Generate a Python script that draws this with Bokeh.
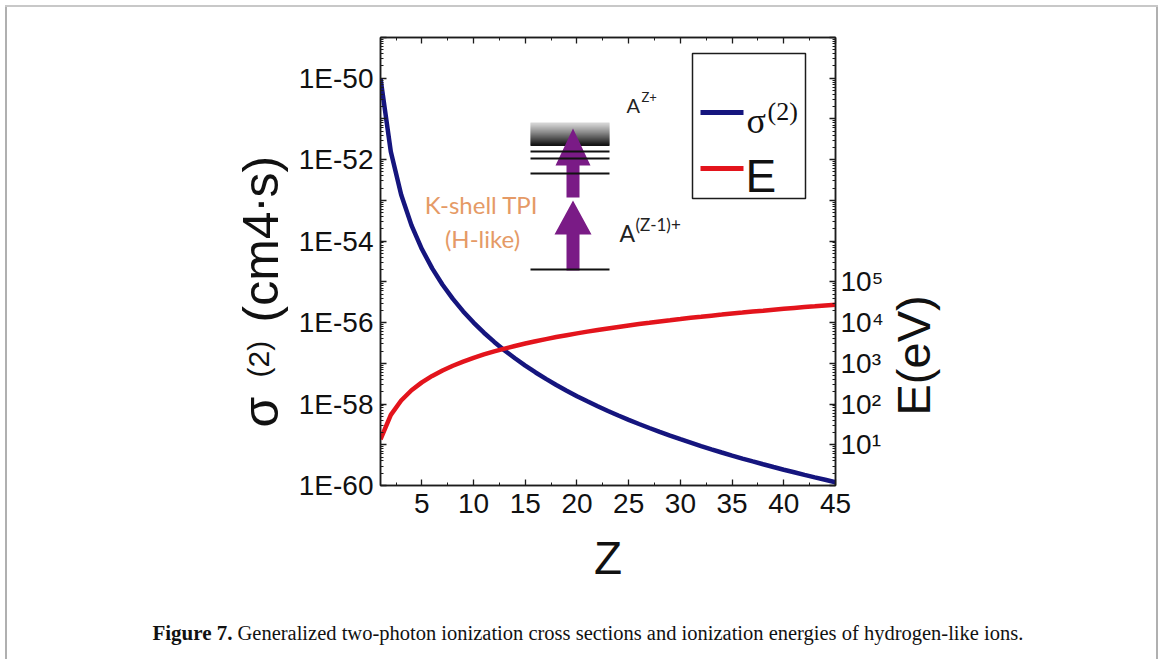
import math

from bokeh.plotting import figure
from bokeh.layouts import column, row
from bokeh.models import (LinearAxis, LogAxis, LogScale, Range1d, FixedTicker,
                          CustomJSTickFormatter, Label, BoxAnnotation, PolyAnnotation)
from bokeh.embed import file_html
from bokeh.resources import INLINE

# ---- data: hydrogen-like ions, Z = 1 .. 45 ----
Z = list(range(1, 46))

# generalized two-photon ionization cross section (cm^4 s)
sigma2 = [1.0e-50, 1.56e-52, 1.37e-53, 2.44e-54, 6.4e-55, 2.14e-55, 8.5e-56, 3.81e-56,
          1.88e-56, 1.0e-56, 5.64e-57, 3.35e-57, 2.07e-57, 1.33e-57, 8.78e-58, 5.96e-58,
          4.14e-58, 2.94e-58, 2.13e-58, 1.56e-58, 1.17e-58, 8.82e-59, 6.76e-59, 5.23e-59,
          4.10e-59, 3.24e-59, 2.58e-59, 2.07e-59, 1.68e-59, 1.37e-59, 1.13e-59, 9.31e-60,
          7.74e-60, 6.47e-60, 5.44e-60, 4.59e-60, 3.90e-60, 3.32e-60, 2.84e-60, 2.44e-60,
          2.11e-60, 1.82e-60, 1.58e-60, 1.38e-60, 1.20e-60]

# ionization energy (eV)
energy_eV = [13.6, 54.4, 122, 218, 340, 490, 666, 870, 1100, 1360, 1650, 1960, 2300,
             2670, 3060, 3480, 3930, 4410, 4910, 5440, 6000, 6580, 7190, 7830, 8500,
             9190, 9910, 10700, 11400, 12200, 13100, 13900, 14800, 15700, 16700, 17600,
             18600, 19600, 20700, 21800, 22900, 24000, 25100, 26300, 27500]

z_ticks = [5, 10, 15, 20, 25, 30, 35, 40, 45]
z_minor_ticks = [2.5, 7.5, 12.5, 17.5, 22.5, 27.5, 32.5, 37.5, 42.5]
sigma_exponents = list(range(-60, -48))      # decades on the left axis
energy_exponents = list(range(0, 12))        # decades on the right axis

# ---- page geometry (pixels from the top-left corner of the page) ----
W, H = 1158, 659
FL, FR, FT, FB = 380, 838, 37, 485           # plot frame
ROW_H = 600                                  # plot row height
PLOT_X0, PLOT_X1 = 290, 886                  # main figure horizontal extent
CAP_H = H - ROW_H                            # caption strip

SANS = "Liberation Sans"
SERIF = "Liberation Serif"
AXIS_COLOR = "#1c1c1c"
TEXT_COLOR = "#111111"
BLUE = "#15157e"
RED = "#e3141c"


def fx(px):
    return px - FL


def fy(py):
    return FB - py


# ---------------- main plot ----------------
p = figure(width=PLOT_X1 - PLOT_X0, height=ROW_H, x_range=Range1d(1, 45),
           y_range=Range1d(1e-60, 1e-49), y_axis_type="log", output_backend="svg",
           toolbar_location=None, title=None,
           min_border_left=FL - PLOT_X0, min_border_right=PLOT_X1 - FR,
           min_border_top=FT, min_border_bottom=ROW_H - FB)
p.grid.visible = False
p.background_fill_color = "white"
p.border_fill_alpha = 0
p.outline_line_color = AXIS_COLOR
p.outline_line_width = 1.5

p.extra_y_ranges = {"E": Range1d(1, 1e11)}
p.extra_y_scales = {"E": LogScale()}


def log_minor(exps):
    return [m * 10.0 ** k for k in exps[:-1] for m in range(2, 10)]


def style_axis(ax):
    ax.axis_line_color = AXIS_COLOR
    ax.axis_line_width = 1.5
    ax.major_tick_line_color = AXIS_COLOR
    ax.minor_tick_line_color = AXIS_COLOR
    ax.major_tick_line_width = 1.3
    ax.minor_tick_line_width = 1
    ax.major_tick_in = 6
    ax.major_tick_out = 0
    ax.minor_tick_in = 3
    ax.minor_tick_out = 0
    ax.major_label_text_font = SANS
    ax.major_label_text_color = TEXT_COLOR


# left axis: sigma^(2)
left = p.yaxis[0]
left.ticker = FixedTicker(ticks=[10.0 ** k for k in sigma_exponents],
                          minor_ticks=log_minor(sigma_exponents))
left.formatter = CustomJSTickFormatter(code="""
    const e = Math.round(Math.log10(tick));
    return (e % 2 === 0) ? "1E" + e : "";
""")
style_axis(left)
left.major_label_text_font_size = "28px"
left.major_label_standoff = 7

# bottom axis: Z
bottom = p.xaxis[0]
bottom.ticker = FixedTicker(ticks=z_ticks, minor_ticks=z_minor_ticks)
style_axis(bottom)
bottom.major_label_text_font_size = "28px"
bottom.major_label_standoff = 8
bottom.axis_label = "Z"
bottom.axis_label_text_font = SANS
bottom.axis_label_text_font_size = "46px"
bottom.axis_label_text_font_style = "normal"
bottom.axis_label_text_color = TEXT_COLOR
bottom.axis_label_standoff = 16

# top axis: mirror ticks only
top = LinearAxis(ticker=FixedTicker(ticks=z_ticks, minor_ticks=z_minor_ticks))
style_axis(top)
top.major_label_text_font_size = "0px"
top.major_label_standoff = 0
top.major_label_text_alpha = 0
p.add_layout(top, "above")

# right axis: ionization energy
right = LogAxis(y_range_name="E",
                ticker=FixedTicker(ticks=[10.0 ** k for k in energy_exponents],
                                   minor_ticks=log_minor(energy_exponents)))
right.formatter = CustomJSTickFormatter(code="""
    const e = Math.round(Math.log10(tick));
    if (e < 1 || e > 5) return "";
    const sup = {"0":"\u2070","1":"\u00b9","2":"\u00b2","3":"\u00b3","4":"\u2074",
                 "5":"\u2075","6":"\u2076","7":"\u2077","8":"\u2078","9":"\u2079"};
    return "10" + String(e).split("").map(c => sup[c]).join("");
""")
style_axis(right)
right.major_label_text_font_size = "28px"
right.major_label_standoff = 5
p.add_layout(right, "right")

# ---- curves ----
p.line(Z, sigma2, line_color=BLUE, line_width=4.5)
p.line(Z, energy_eV, line_color=RED, line_width=4.5, y_range_name="E")


# ---- annotations inside the frame, placed in pixel units ----
def box(x0, y0, x1, y1, fill, line=None, lw=0):
    p.add_layout(BoxAnnotation(left=fx(x0), right=fx(x1), top=fy(y0), bottom=fy(y1),
                               left_units="screen", right_units="screen",
                               top_units="screen", bottom_units="screen",
                               fill_color=fill, fill_alpha=1.0,
                               line_color=line, line_width=lw,
                               line_alpha=1.0 if line else 0.0))


def poly(pts, color):
    p.add_layout(PolyAnnotation(xs=[fx(a) for a, _ in pts], ys=[fy(b) for _, b in pts],
                                xs_units="screen", ys_units="screen",
                                fill_color=color, fill_alpha=1.0, line_alpha=0.0))


def text(s, x, y, size, font=SANS, color=TEXT_COLOR, align="left"):
    p.add_layout(Label(x=fx(x), y=fy(y), x_units="screen", y_units="screen", text=s,
                       text_font=font, text_font_size=f"{size}px", text_color=color,
                       text_align=align, text_baseline="alphabetic"))


# energy-level sketch of two-photon K-shell ionization
for i in range(23):
    g = int(215 - 195 * (i / 22) ** 1.1)
    box(530, 122 + i, 609, 123.6 + i, f"#{g:02x}{g:02x}{g:02x}")

PURPLE = "#7a1b86"
poly([(566, 197), (579, 197), (579, 165), (590, 165), (572.5, 128), (555, 165),
      (566, 165)], PURPLE)
poly([(566, 270), (579, 270), (579, 234), (591, 234), (572.5, 200), (554, 234),
      (566, 234)], PURPLE)

for ly in (151, 158, 173, 269):
    box(530, ly - 1, 609, ly + 1, "#111111")

text("A", 626, 104, 20, font="Lato", color="#222222")
text("Z+", 641, 96, 13, font="Lato", color="#222222")
text("A", 619, 232, 23, font="Lato", color="#222222")
text("(Z-1)+", 635, 224, 17, font="Lato", color="#222222")

ORANGE = "#e59a66"
text("K-shell TPI", 481, 204, 24, font="Lato", color=ORANGE, align="center")
text("(H-like)", 482, 238, 24, font="Lato", color=ORANGE, align="center")

# legend
box(692, 53, 805, 198, "white", line=AXIS_COLOR, lw=1.5)
box(700, 109.5, 743, 114.5, BLUE)
box(700, 165.5, 743, 170.5, RED)
text("\u03c3", 746, 120, 36, font=SERIF)
text("(2)", 767, 111, 26, font=SERIF)
text("E", 745, 175, 46)


# ---------------- text strips around the plot ----------------
def strip(x0, x1, y0, y1, height, border_top=0, border_bottom=0):
    """Blank figure whose frame covers page pixels x0..x1, y0..y1.

    The y range holds negated page rows, so text placed at y = -row keeps its
    normal orientation."""
    f = figure(width=x1 - x0, height=height, x_range=Range1d(x0, x1),
               y_range=Range1d(-y1, -y0), min_border_left=0, min_border_right=0,
               min_border_top=border_top, min_border_bottom=border_bottom,
               toolbar_location=None, output_backend="svg", title=None,
               x_axis_location=None, y_axis_location=None)
    f.grid.visible = False
    f.outline_line_color = None
    f.background_fill_alpha = 0
    f.border_fill_alpha = 0
    return f


def strip_text(f, s, x, y, size, font=SANS, style="normal", align="left"):
    f.add_layout(Label(x=x, y=-y, text=s, text_font=font, text_font_size=f"{size}px",
                       text_color=TEXT_COLOR, text_font_style=style,
                       text_align=align, text_baseline="alphabetic"))


def strip_text_up(f, s, base_x, y, size, font=SANS):
    """Text reading bottom to top; base_x is the baseline column, y the start row."""
    f.add_layout(Label(x=base_x - 0.34 * size, y=-y, text=s, text_font=font,
                       text_font_size=f"{size}px", text_color=TEXT_COLOR,
                       angle=math.pi / 2, text_align="left", text_baseline="middle"))


# side strips share the plot's top/bottom borders, so their frames line up with it
left_strip = strip(0, PLOT_X0, FT, FB, ROW_H, FT, ROW_H - FB)
strip_text_up(left_strip, "\u03c3", 277, 427, 50)
strip_text_up(left_strip, "(2)", 268, 377, 30)
strip_text_up(left_strip, "(cm4", 277, 322, 50)
strip_text_up(left_strip, ".", 263, 211, 50)
strip_text_up(left_strip, "s)", 277, 197, 50)

right_strip = strip(PLOT_X1, W, FT, FB, ROW_H, FT, ROW_H - FB)
strip_text_up(right_strip, "E(eV)", 929, 415, 47)

caption = strip(0, W, ROW_H, H, CAP_H)
strip_text(caption, "Figure 7.", 232, 632, 21, font=SERIF, style="bold", align="right")
strip_text(caption, "Generalized two-photon ionization cross sections and ionization "
           "energies of hydrogen-like ions.", 237, 632, 20.5, font=SERIF)

# thin grey page frame behind the figures
page_frame = {
    "background-color": "white",
    "background-image": ("linear-gradient(#c8c8c8,#c8c8c8), "
                         "linear-gradient(#b0b0b0,#b0b0b0), "
                         "linear-gradient(#b0b0b0,#b0b0b0)"),
    "background-size": "1153px 2px, 2px 700px, 2px 700px",
    "background-position": "5px 5px, 5px 5px, 1156px 5px",
    "background-repeat": "no-repeat",
}

page = column(row(left_strip, p, right_strip, spacing=0), caption, spacing=0,
              styles=page_frame)

open("out.html", "w").write(file_html(page, INLINE))
